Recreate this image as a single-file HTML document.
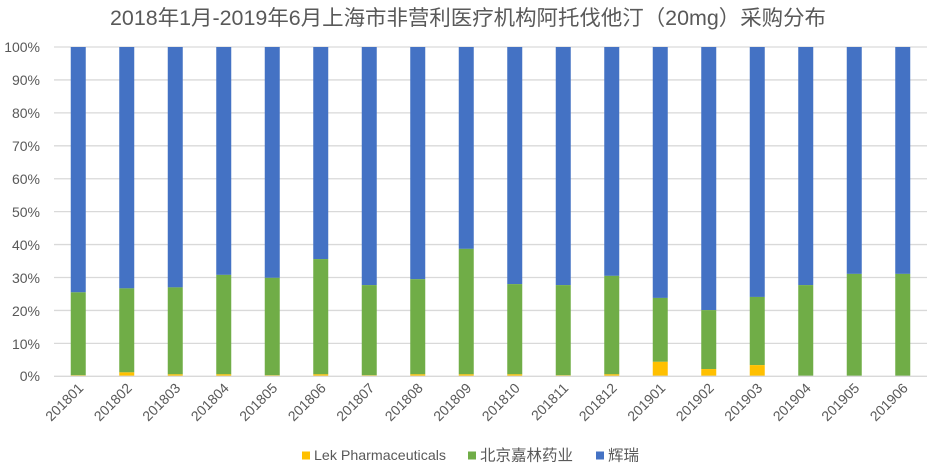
<!DOCTYPE html>
<html><head><meta charset="utf-8"><style>
html,body{margin:0;padding:0;background:#fff;}
svg{display:block;font-family:"Liberation Sans","Noto Sans CJK SC",sans-serif;}
</style></head><body>
<svg width="935" height="470" viewBox="0 0 935 470" xmlns="http://www.w3.org/2000/svg">
<rect width="935" height="470" fill="#fff"/>
<text x="468" y="25" text-anchor="middle" font-size="21" fill="#595959" textLength="716" lengthAdjust="spacingAndGlyphs">2018年1月-2019年6月上海市非营利医疗机构阿托伐他汀（20mg）采购分布</text>
<g stroke="#d9d9d9" stroke-width="1.3">
<line x1="54" x2="927" y1="47" y2="47"/>
<line x1="54" x2="927" y1="79.93" y2="79.93"/>
<line x1="54" x2="927" y1="112.86" y2="112.86"/>
<line x1="54" x2="927" y1="145.79" y2="145.79"/>
<line x1="54" x2="927" y1="178.72" y2="178.72"/>
<line x1="54" x2="927" y1="211.65" y2="211.65"/>
<line x1="54" x2="927" y1="244.58" y2="244.58"/>
<line x1="54" x2="927" y1="277.51" y2="277.51"/>
<line x1="54" x2="927" y1="310.44" y2="310.44"/>
<line x1="54" x2="927" y1="343.37" y2="343.37"/>
</g>
<g font-size="14" fill="#595959" text-anchor="end">
<text x="40" y="52">100%</text>
<text x="40" y="85">90%</text>
<text x="40" y="118">80%</text>
<text x="40" y="151">70%</text>
<text x="40" y="184">60%</text>
<text x="40" y="217">50%</text>
<text x="40" y="250">40%</text>
<text x="40" y="283">30%</text>
<text x="40" y="316">20%</text>
<text x="40" y="349">10%</text>
<text x="40" y="381">0%</text>
</g>
<g id="bars"></g>
<line x1="54" x2="927" y1="376.3" y2="376.3" stroke="#d9d9d9" stroke-width="1.3"/>
<g id="xl" font-size="14" fill="#595959"></g>
<g>
<rect x="302" y="451.5" width="8" height="8" fill="#FFC000"/>
<text x="314" y="460" font-size="14" fill="#595959" textLength="132" lengthAdjust="spacingAndGlyphs">Lek Pharmaceuticals</text>
<rect x="468" y="451.5" width="8" height="8" fill="#70AD47"/>
<text x="480" y="460.5" font-size="15.5" fill="#595959">北京嘉林药业</text>
<rect x="596" y="451.5" width="8" height="8" fill="#4472C4"/>
<text x="608" y="460.5" font-size="15.5" fill="#595959">辉瑞</text>
</g>
<script>
(function(){
var labels=["201801","201802","201803","201804","201805","201806","201807","201808","201809","201810","201811","201812","201901","201902","201903","201904","201905","201906"];
var y=[0.3,1.2,0.6,0.6,0.3,0.6,0.3,0.6,0.6,0.6,0.3,0.6,4.4,2.2,3.4,0,0,0];
var g=[25.5,26.7,27.0,30.8,29.9,35.6,27.7,29.5,38.7,28.0,27.7,30.5,23.8,20.1,24.1,27.7,31.1,31.1];
var y0=376.3,s=3.293,left=54,cw=48.5,bw=15;
var ns="http://www.w3.org/2000/svg";
var B=document.getElementById("bars"),X=document.getElementById("xl");
function r(x,yt,h,c){var e=document.createElementNS(ns,"rect");e.setAttribute("x",x);e.setAttribute("y",yt);e.setAttribute("width",bw);e.setAttribute("height",Math.max(h,0));e.setAttribute("fill",c);B.appendChild(e);}
for(var i=0;i<18;i++){
var cx=left+(i+0.5)*cw,x=cx-bw/2;
var yt=y0-y[i]*s,gt=y0-g[i]*s,top=y0-100*s;
r(x,top,gt-top,"#4472C4");
r(x,gt,yt-gt,"#70AD47");
if(y[i]>0)r(x,yt,y0-yt,"#FFC000");
var t=document.createElementNS(ns,"text");
var ax=cx+6,ay=389;
t.setAttribute("x",ax);t.setAttribute("y",ay);t.setAttribute("text-anchor","end");
t.setAttribute("transform","rotate(-45 "+ax+" "+ay+")");
t.textContent=labels[i];X.appendChild(t);
}
})();
</script>
</svg>
</body></html>
